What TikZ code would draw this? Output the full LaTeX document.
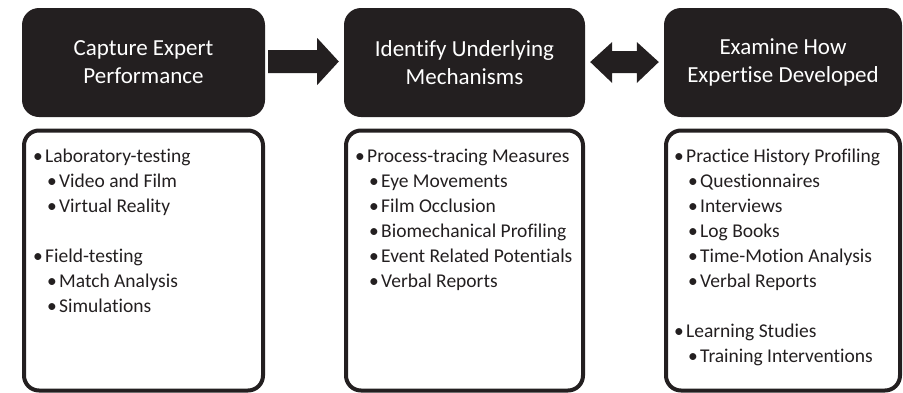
\documentclass[tikz,border=0pt]{standalone}
\usepackage{fontspec}
\setmainfont[Ligatures={NoCommon}]{Carlito}
\usetikzlibrary{calc}
\definecolor{boxblack}{RGB}{35,31,32}
\newcommand{\lvla}[1]{\makebox[12pt][l]{\textbullet}#1}
\newcommand{\lvlb}[1]{\hspace*{14pt}\makebox[12pt][l]{\textbullet}#1}
\begin{document}
\begin{tikzpicture}[x=1pt,y=-1pt,
  titlebox/.style={fill=boxblack, rounded corners=17pt, inner sep=0pt,
    text=white, align=center, font=\fontsize{23}{28}\selectfont,
    minimum height=109pt},
  listbox/.style={draw=boxblack, line width=4pt, rounded corners=15pt,
    inner sep=0pt, minimum height=260pt},
  listtext/.style={anchor=base west, inner sep=0pt,
    font=\fontsize{19.5}{25}\selectfont, text=boxblack},
  arrowfill/.style={fill=boxblack, draw=none}]
\useasboundingbox (0,0) rectangle (903,392);

\node[titlebox, minimum width=243pt] (t1) at (143.5,62.5) {Capture Expert\\Performance};
\node[titlebox, minimum width=241pt] (t2) at (464.5,62.5) {Identify Underlying\\Mechanisms};
\node[titlebox, minimum width=238pt] (t3) at (783,62.5) {Examine How\\Expertise Developed};

\node[listbox, minimum width=239pt] (b1) at (143.5,260.5) {};
\node[listbox, minimum width=237pt] (b2) at (464.5,260.5) {};
\node[listbox, minimum width=234pt] (b3) at (783,260.5) {};

\node[listtext] (l1) at (33,162) {\begin{tabular}[t]{@{}l@{}}\lvla{Laboratory-testing}\\
\lvlb{Video and Film}\\
\lvlb{Virtual Reality}\\[25pt]
\lvla{Field-testing}\\
\lvlb{Match Analysis}\\
\lvlb{Simulations}\end{tabular}};

\node[listtext] (l2) at (355,162) {\begin{tabular}[t]{@{}l@{}}\lvla{Process-tracing Measures}\\
\lvlb{Eye Movements}\\
\lvlb{Film Occlusion}\\
\lvlb{Biomechanical Profiling}\\
\lvlb{Event Related Potentials}\\
\lvlb{Verbal Reports}\end{tabular}};

\node[listtext] (l3) at (674,162) {\begin{tabular}[t]{@{}l@{}}\lvla{Practice History Profiling}\\
\lvlb{Questionnaires}\\
\lvlb{Interviews}\\
\lvlb{Log Books}\\
\lvlb{Time-Motion Analysis}\\
\lvlb{Verbal Reports}\\[25pt]
\lvla{Learning Studies}\\
\lvlb{Training Interventions}\end{tabular}};

% single arrow t1 -> t2
\fill[arrowfill] ($(t1.east)+(3,-12.5)$) -- ($(t1.east)+(52,-12.5)$)
  -- ($(t1.east)+(52,-24.5)$) -- ($(t2.west)+(-5,-1)$)
  -- ($(t1.east)+(52,22.5)$) -- ($(t1.east)+(52,10.5)$)
  -- ($(t1.east)+(3,10.5)$) -- cycle;

% double arrow t2 <-> t3
\fill[arrowfill] ($(t2.east)+(5,-0.5)$) -- ($(t2.east)+(27,-20.5)$)
  -- ($(t2.east)+(27,-11.5)$) -- ($(t3.west)+(-27,-11.5)$)
  -- ($(t3.west)+(-27,-20.5)$) -- ($(t3.west)+(-5,-0.5)$)
  -- ($(t3.west)+(-27,20.5)$) -- ($(t3.west)+(-27,10.5)$)
  -- ($(t2.east)+(27,10.5)$) -- ($(t2.east)+(27,20.5)$) -- cycle;
\end{tikzpicture}
\end{document}
